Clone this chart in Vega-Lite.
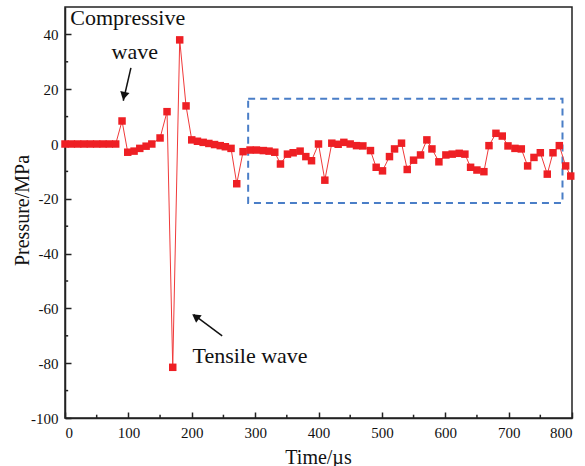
{
  "$schema": "https://vega.github.io/schema/vega-lite/v6.json",
  "width": 507,
  "height": 411,
  "autosize": {"type": "none"},
  "padding": {"left": 65, "top": 7, "right": 13, "bottom": 48},
  "background": "white",
  "config": {
    "view": {"stroke": "#222", "strokeWidth": 1.5},
    "font": "Liberation Serif",
    "axis": {
      "grid": false,
      "domainColor": "#222",
      "domainWidth": 1.5,
      "tickColor": "#222",
      "tickWidth": 1.5,
      "labelFont": "Liberation Serif",
      "labelFontSize": 15,
      "labelColor": "#111",
      "titleFont": "Liberation Serif",
      "titleFontSize": 20,
      "titleFontWeight": "normal",
      "titleColor": "#111"
    }
  },
  "datasets": {
    "series": [
      {"t": 0, "p": 0}, {"t": 10, "p": 0}, {"t": 20, "p": 0}, {"t": 30, "p": 0}, {"t": 40, "p": 0},
      {"t": 50, "p": 0}, {"t": 60, "p": 0}, {"t": 70, "p": 0}, {"t": 80, "p": 0},
      {"t": 90, "p": 8.4}, {"t": 99, "p": -3.0}, {"t": 109, "p": -2.6}, {"t": 118, "p": -1.6},
      {"t": 128, "p": -0.8}, {"t": 137, "p": 0}, {"t": 150, "p": 2.2}, {"t": 161, "p": 11.8},
      {"t": 170, "p": -81.5}, {"t": 181, "p": 38}, {"t": 191, "p": 13.9}, {"t": 200, "p": 1.5},
      {"t": 209, "p": 1.0}, {"t": 218, "p": 0.6}, {"t": 227, "p": 0.2}, {"t": 236, "p": -0.2},
      {"t": 245, "p": -0.6}, {"t": 253, "p": -1.0}, {"t": 262, "p": -1.6}, {"t": 271, "p": -14.5},
      {"t": 281, "p": -2.8}, {"t": 292, "p": -2.2}, {"t": 302, "p": -2.2}, {"t": 313, "p": -2.4},
      {"t": 322, "p": -2.6}, {"t": 331, "p": -3.0}, {"t": 340, "p": -7.3}, {"t": 351, "p": -3.7},
      {"t": 360, "p": -3.2}, {"t": 371, "p": -2.6}, {"t": 380, "p": -4.6}, {"t": 389, "p": -6.1},
      {"t": 400, "p": 0}, {"t": 410, "p": -13.2}, {"t": 421, "p": 0.3}, {"t": 431, "p": -0.1},
      {"t": 440, "p": 0.6}, {"t": 450, "p": 0}, {"t": 460, "p": -0.6}, {"t": 470, "p": -0.7},
      {"t": 482, "p": -2.4}, {"t": 491, "p": -8.5}, {"t": 501, "p": -9.8}, {"t": 512, "p": -4.6},
      {"t": 520, "p": -1.8}, {"t": 531, "p": 0.3}, {"t": 540, "p": -9.3}, {"t": 550, "p": -5.9},
      {"t": 561, "p": -4.0}, {"t": 571, "p": 1.5}, {"t": 579, "p": -1.8}, {"t": 590, "p": -6.5},
      {"t": 601, "p": -4.0}, {"t": 611, "p": -3.7}, {"t": 622, "p": -3.4}, {"t": 631, "p": -3.7},
      {"t": 640, "p": -8.5}, {"t": 650, "p": -9.5}, {"t": 661, "p": -10.1}, {"t": 669, "p": -0.6},
      {"t": 680, "p": 3.9}, {"t": 690, "p": 2.9}, {"t": 699, "p": -0.7}, {"t": 710, "p": -1.6},
      {"t": 720, "p": -1.8}, {"t": 730, "p": -8.0}, {"t": 740, "p": -4.9}, {"t": 750, "p": -3.2},
      {"t": 761, "p": -11}, {"t": 770, "p": -3.2}, {"t": 780, "p": -0.6}, {"t": 790, "p": -8.0},
      {"t": 798, "p": -11.7}
    ],
    "minorX": [{"t": 50}, {"t": 150}, {"t": 250}, {"t": 350}, {"t": 450}, {"t": 550}, {"t": 650}, {"t": 750}],
    "minorY": [{"p": -90}, {"p": -70}, {"p": -50}, {"p": -30}, {"p": -10}, {"p": 10}, {"p": 30}],
    "labels": [
      {"t": 99, "p": 46, "label": "Compressive"},
      {"t": 110, "p": 33.6, "label": "wave"},
      {"t": 292, "p": -77.5, "label": "Tensile wave"}
    ],
    "arrows": [
      {"t1": 104, "p1": 27.8, "t2": 92, "p2": 15.8},
      {"t1": 248, "p1": -70, "t2": 203, "p2": -62.3}
    ],
    "box": [{"t1": 289, "t2": 785, "p1": -21.5, "p2": 16.5}]
  },
  "layer": [
    {
      "data": {"name": "box"},
      "mark": {"type": "rect", "fill": null, "stroke": "#4A7EC7", "strokeWidth": 2, "strokeDash": [7, 5]},
      "encoding": {
        "x": {"field": "t1", "type": "quantitative", "scale": {"domain": [0, 800], "nice": false, "zero": false},
              "axis": {"values": [0, 100, 200, 300, 400, 500, 600, 700, 800], "title": "Time/µs",
                       "tickSize": -6, "labelPadding": 13,
                       "titleX": 253, "titleY": 39, "titleAlign": "center", "titleBaseline": "middle",
                       "labelFont": "Liberation Serif", "labelExpr": "'' + datum.value"}},
        "x2": {"field": "t2"},
        "y": {"field": "p1", "type": "quantitative", "scale": {"domain": [-100, 50], "nice": false, "zero": false},
              "axis": {"values": [-100, -80, -60, -40, -20, 0, 20, 40], "title": "Pressure/MPa",
                       "tickSize": -6, "labelPadding": 13,
                       "titleX": -43, "titleY": 203, "titleAngle": 270, "titleAlign": "center", "titleBaseline": "middle",
                       "labelFont": "Liberation Serif", "labelExpr": "'' + datum.value"}},
        "y2": {"field": "p2"}
      }
    },
    {
      "data": {"name": "minorX"},
      "mark": {"type": "rule", "color": "#222", "strokeWidth": 1.5},
      "encoding": {
        "x": {"field": "t", "type": "quantitative"},
        "y": {"datum": -100},
        "y2": {"datum": -98.8}
      }
    },
    {
      "data": {"name": "minorY"},
      "mark": {"type": "rule", "color": "#222", "strokeWidth": 1.5},
      "encoding": {
        "y": {"field": "p", "type": "quantitative"},
        "x": {"datum": 0},
        "x2": {"datum": 5}
      }
    },
    {
      "data": {"name": "series"},
      "mark": {"type": "line", "color": "#F03A3A", "strokeWidth": 1},
      "encoding": {
        "x": {"field": "t", "type": "quantitative"},
        "y": {"field": "p", "type": "quantitative"}
      }
    },
    {
      "data": {"name": "series"},
      "mark": {"type": "point", "shape": "square", "filled": true, "color": "#EE1F24", "size": 56, "opacity": 1},
      "encoding": {
        "x": {"field": "t", "type": "quantitative"},
        "y": {"field": "p", "type": "quantitative"}
      }
    },
    {
      "data": {"name": "labels"},
      "mark": {"type": "text", "font": "Liberation Serif", "fontSize": 22, "color": "#111", "align": "center", "baseline": "middle"},
      "encoding": {
        "x": {"field": "t", "type": "quantitative"},
        "y": {"field": "p", "type": "quantitative"},
        "text": {"field": "label"}
      }
    },
    {
      "data": {"name": "arrows"},
      "mark": {"type": "rule", "color": "#111", "strokeWidth": 1.5},
      "encoding": {
        "x": {"field": "t1", "type": "quantitative"},
        "y": {"field": "p1", "type": "quantitative"},
        "x2": {"field": "t2"},
        "y2": {"field": "p2"}
      }
    },
    {
      "data": {"values": [{"t": 93, "p": 17.5}]},
      "mark": {"type": "point", "shape": "triangle-up", "filled": true, "color": "#111", "size": 90, "angle": 193, "opacity": 1},
      "encoding": {
        "x": {"field": "t", "type": "quantitative"},
        "y": {"field": "p", "type": "quantitative"}
      }
    },
    {
      "data": {"values": [{"t": 206, "p": -63}]},
      "mark": {"type": "point", "shape": "triangle-up", "filled": true, "color": "#111", "size": 90, "angle": 306, "opacity": 1},
      "encoding": {
        "x": {"field": "t", "type": "quantitative"},
        "y": {"field": "p", "type": "quantitative"}
      }
    }
  ]
}
